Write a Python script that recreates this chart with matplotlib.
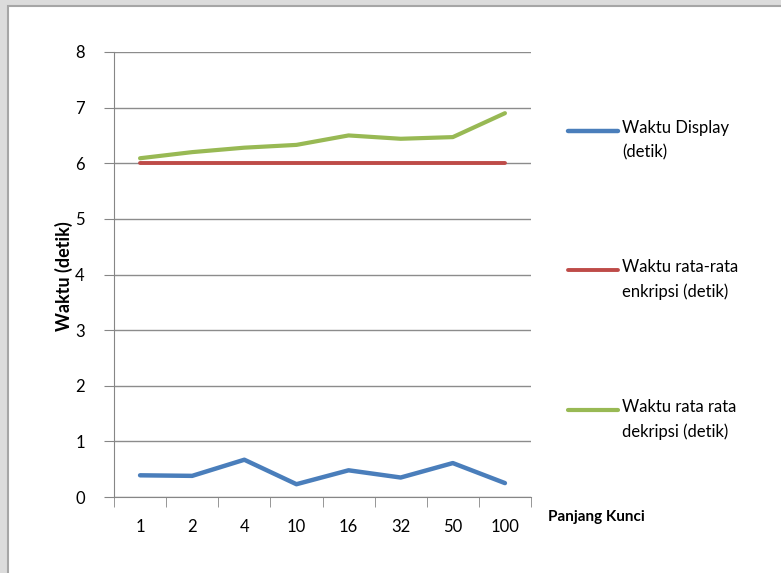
import matplotlib.pyplot as plt
from matplotlib.patches import Rectangle
from matplotlib.lines import Line2D

# --- Data ---
categories = ["1", "2", "4", "10", "16", "32", "50", "100"]
waktu_display = [0.39, 0.38, 0.67, 0.23, 0.48, 0.35, 0.61, 0.25]
waktu_enkripsi = [6.0, 6.0, 6.0, 6.0, 6.0, 6.0, 6.0, 6.0]
waktu_dekripsi = [6.09, 6.20, 6.28, 6.33, 6.50, 6.44, 6.47, 6.90]

labels = ["Waktu Display\n(detik)",
          "Waktu rata-rata\nenkripsi (detik)",
          "Waktu rata rata\ndekripsi (detik)"]
colors = ["#4a7ebb", "#be4b48", "#98b954"]
widths = [3.2, 2.8, 3.0]

plt.rcParams['font.family'] = ['Lato', 'DejaVu Sans']

W, H = 781, 573
fig = plt.figure(figsize=(W / 100, H / 100), dpi=100)
fig.patch.set_facecolor("#dcdcdc")
# white chart area with grey frame
fig.patches.append(Rectangle((8 / W, -0.1), 1.1, (H - 6) / H + 0.1,
                             transform=fig.transFigure, facecolor="white",
                             edgecolor="#a6a6a6", linewidth=1.5, zorder=-10))

ax = fig.add_axes([114 / W, 76 / H, 417 / W, 445 / H])
ax.set_facecolor("none")

x = range(len(categories))
ax.plot(x, waktu_display, color=colors[0], lw=widths[0], solid_capstyle="round")
ax.plot(x, waktu_enkripsi, color=colors[1], lw=widths[1], solid_capstyle="round")
ax.plot(x, waktu_dekripsi, color=colors[2], lw=widths[2], solid_capstyle="round")

ax.set_xlim(-0.5, len(categories) - 0.5)
ax.set_ylim(0, 8)
ax.set_yticks(range(0, 9))
ax.set_xticks(list(x))
ax.set_xticklabels(categories)
ax.set_xticks([i - 0.5 for i in range(len(categories) + 1)], minor=True)
ax.tick_params(axis="x", which="major", length=0, pad=16, labelsize=12)
ax.tick_params(axis="x", which="minor", length=7, color="#868686", direction="out")
ax.tick_params(axis="y", length=7, color="#868686", labelsize=12, pad=14)
ax.grid(axis="y", color="#8c8c8c", lw=1)
ax.set_axisbelow(True)
for s in ["top", "right"]:
    ax.spines[s].set_visible(False)
for s in ["left", "bottom"]:
    ax.spines[s].set_color("#868686")

ax.set_ylabel("Waktu (detik)", fontsize=13, fontweight="bold", va="center")
ax.yaxis.set_label_coords((64 - 114) / 417, (497 - 276) / 445)
fig.text(548 / W, 1 - 517 / H, "Panjang Kunci", fontsize=11,
         fontweight="bold", va="center", ha="left")

# legend, Excel style (handle on first line of the label)
leg_y = [131, 270, 410]
for lab, c, lw, yy in zip(labels, colors, widths, leg_y):
    fig.add_artist(Line2D([568 / W, 618 / W], [1 - yy / H, 1 - yy / H],
                          transform=fig.transFigure, color=c, lw=lw,
                          solid_capstyle="round"))
    fig.text(622 / W, 1 - (yy - 11) / H, lab, fontsize=12, va="top",
             ha="left", linespacing=1.6)

plt.savefig("out.png", dpi=100)
